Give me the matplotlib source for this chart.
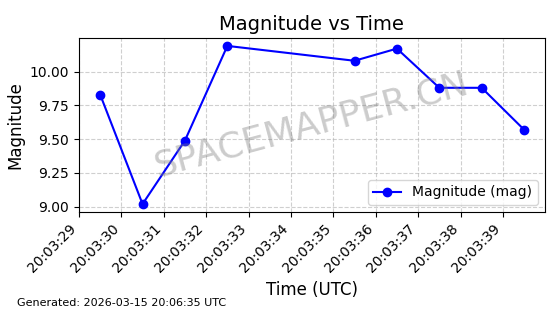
import pandas as pd, numpy as np
import matplotlib
matplotlib.use("Agg")
import matplotlib.pyplot as plt
import matplotlib.dates as mdates

times = ["2026-03-15 20:03:29.5", "2026-03-15 20:03:30.5", "2026-03-15 20:03:31.5",
         "2026-03-15 20:03:32.5", "2026-03-15 20:03:35.5", "2026-03-15 20:03:36.5",
         "2026-03-15 20:03:37.5", "2026-03-15 20:03:38.5", "2026-03-15 20:03:39.5"]
magnitude = [9.83, 9.02, 9.49, 10.19, 10.08, 10.17, 9.88, 9.88, 9.57]
generated = "Generated: 2026-03-15 20:06:35 UTC"

t = pd.to_datetime(times)

fig, ax = plt.subplots(figsize=(5.6, 3.14), dpi=100)
fig.subplots_adjust(left=0.141, right=0.973, top=0.879, bottom=0.325)

ax.plot(t, magnitude, "o-", color="blue", label="Magnitude (mag)")
ax.set_title("Magnitude vs Time", fontsize=14)
ax.set_xlabel("Time (UTC)", fontsize=12)
ax.set_ylabel("Magnitude", fontsize=12)
ax.grid(True, linestyle="--", alpha=0.6)
ax.legend(loc="lower right")

# axis ends just short of 20:03:40, so that tick is not drawn
ax.set_xlim(pd.Timestamp("2026-03-15 20:03:29"), pd.Timestamp("2026-03-15 20:03:39.99"))
ax.xaxis.set_major_locator(mdates.SecondLocator())
ax.xaxis.set_major_formatter(mdates.DateFormatter("%H:%M:%S"))
plt.setp(ax.get_xticklabels(), rotation=45, ha="right")

ax.text(0.5, 0.5, "SPACEMAPPER.CN", transform=ax.transAxes, fontsize=26,
        color="gray", alpha=0.4, rotation=15, ha="center", va="center")
fig.text(0.03, 0.025, generated, fontsize=8)

plt.savefig("out.png", dpi=100)
